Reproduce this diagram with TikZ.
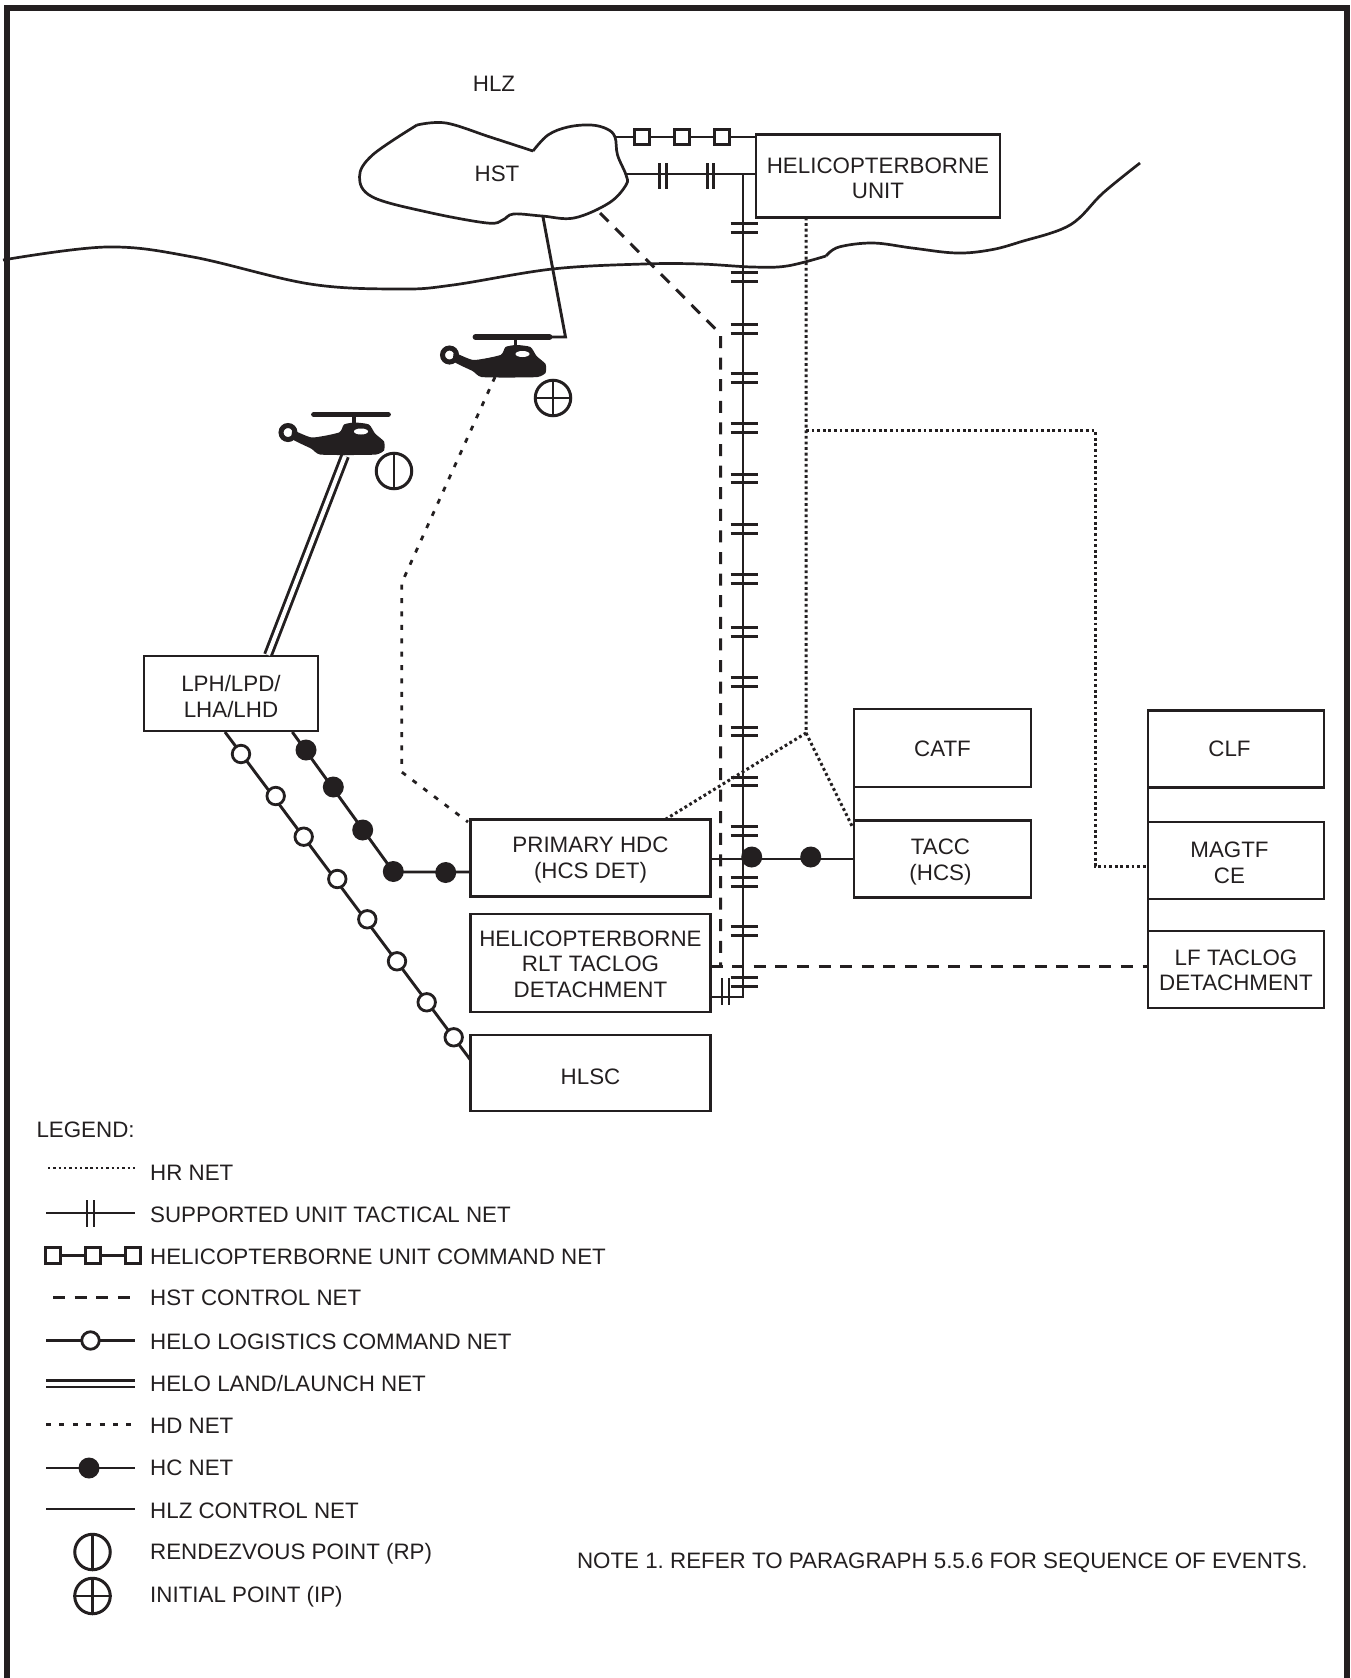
\documentclass[tikz,border=0pt]{standalone}
\usepackage{fontspec}
\setmainfont{Liberation Sans}
\usetikzlibrary{positioning}
\definecolor{inkDark}{HTML}{231F20}
% drops a box text by #1, the box itself stays where it is
\newcommand{\dropby}[1]{\rule{0pt}{\dimexpr16pt+2\dimexpr#1\relax\relax}}
\tikzset{
  every picture/.append style = {line width=3pt, color=inkDark, line join=miter},
  frameline/.style  = {inkDark, line width=5.6pt},
  shoreline/.style  = {inkDark, line width=2.7pt, line join=round},
  netbox/.style     = {draw=inkDark, line width=2.8pt, inner sep=0pt, outer sep=0pt, align=center,
                       font=\fontsize{22.35}{25.7}\selectfont, text=inkDark},
  lbl/.style        = {font=\fontsize{22.35}{25.7}\selectfont, text=inkDark, inner sep=0pt},
  legendlbl/.style  = {lbl, anchor=west},
  netline/.style    = {inkDark, line width=2.9pt},
  hrnet/.style      = {inkDark, line width=3pt, dash pattern=on 2.8pt off 2.8pt},
  hstnet/.style     = {inkDark, line width=3pt, dash pattern=on 12pt off 9.6pt},
  hdnet/.style      = {inkDark, line width=2.8pt, dash pattern=on 5pt off 8.4pt},
  landnet/.style    = {double=white, draw=inkDark, line width=2.9pt, double distance=4pt},
  hcdot/.style      = {circle, fill=inkDark, inner sep=0pt, minimum size=21pt},
  hldot/.style      = {circle, draw=inkDark, fill=white, line width=2.8pt, inner sep=0pt, minimum size=17.5pt},
  cmdsq/.style      = {rectangle, draw=inkDark, fill=white, line width=3pt, inner sep=0pt,
                       minimum width=14.5pt, minimum height=15.5pt},
  pointmark/.style  = {circle, draw=inkDark, line width=3pt, inner sep=0pt, minimum size=35.5pt},
  helo/.pic = {
    % rotor and mast
    \draw[inkDark, line width=5.8pt, line cap=round] (-37,0) -- (37,0);
    \draw[inkDark, line width=3.4pt] (3,0) -- (3,11);
    % tail ring and fuselage
    \draw[inkDark, line width=5pt] (-63,18) circle (7);
    \fill[inkDark] plot[smooth cycle, tension=0.35] coordinates {(-58,16) (-39,23) (-12,18) (-7,10)
      (4,8) (18,10) (24,19) (33,27) (33,36) (25,40) (0,40.5) (-31,40) (-40,34) (-58,25)};
    \fill[white] (10,17) ellipse (7 and 3);
  },
}

\begin{document}
\begin{tikzpicture}[x=1pt, y=-1pt]
  \useasboundingbox (0,0) rectangle (1351,1678);
  \frenchspacing
  % outer frame, open at the bottom
  \draw[frameline] (7,1678) -- (7,8) -- (1347,8) -- (1347,1678);

  % boxes
  \node[netbox, minimum width=244pt, minimum height=83pt] (hbunit) at (878,176) {\dropby{2pt}HELICOPTERBORNE\\UNIT};
  \node[netbox, minimum width=174pt, minimum height=75pt] (lph) at (231,693.5) {\dropby{3pt}LPH/LPD/\\LHA/LHD};
  \node[netbox, minimum width=240pt, minimum height=77pt] (hdc) at (590.5,858) {\dropby{2pt}PRIMARY HDC\\(HCS DET)};
  \node[netbox, minimum width=240pt, minimum height=98pt] (rlt) at (590.5,963) {\dropby{1pt}HELICOPTERBORNE\\RLT TACLOG\\DETACHMENT};
  \node[netbox, minimum width=240pt, minimum height=76pt] (hlsc) at (590.5,1073) {\dropby{4pt}HLSC};
  \node[netbox, minimum width=177pt, minimum height=78pt] (catf) at (942.5,748) {\dropby{1pt}CATF};
  \node[netbox, minimum width=177pt, minimum height=77pt] (tacc) at (942.5,859) {\dropby{3pt}TACC\hspace*{4pt}\\(HCS)\hspace*{4pt}};
  \node[netbox, minimum width=176pt, minimum height=77pt] (clf) at (1236,749) {CLF\hspace*{13pt}};
  \node[netbox, minimum width=176pt, minimum height=77pt] (magtf) at (1236,860.5) {\dropby{2pt}MAGTF\hspace*{13pt}\\CE\hspace*{13pt}};
  \node[netbox, minimum width=176pt, minimum height=77pt] (lftac) at (1236,969.5) {\dropby{0.5pt}LF TACLOG\\DETACHMENT};
  \node[lbl] (hlz) at (494,83.5) {HLZ};
  \node[lbl] (hst) at (497,173.5) {HST};

  % zone outline
  \draw[shoreline] plot[smooth, tension=0.6] coordinates {(417,125) (446,123) (490,137) (533,151)};
  \draw[shoreline] plot[smooth, tension=0.6] coordinates {(533,151) (548,135) (568,127) (591,125) (607,129) (615,137)
    (617.5,155) (626,175) (626,185) (609,203) (574,218) (542,216) (513.5,214) (502.6,220) (487,223)
    (427,212) (372.5,197) (359.5,177) (372.5,155) (417,125)};
  % shore
  \draw[shoreline] plot[smooth, tension=0.6] coordinates {(3,260) (107,247) (193,257) (310,284) (401,289) (453,285)
    (552.5,269) (643.5,264) (700,264) (752,267) (787,266) (826,256)};
  \draw[shoreline] plot[smooth, tension=0.6] coordinates {(826,256) (839,247) (873,243) (912,248) (956,253) (990,250)
    (1020,242) (1070,225) (1103,193) (1140,163)};

  % helicopters and points
  \pic (heloa) at (512.5,337) {helo};
  \pic (helob) at (351,414.5) {helo};
  \node[pointmark] (ip) at (553,398) {};
  \draw[netline] (ip.north) -- (ip.south) (ip.west) -- (ip.east);
  \node[pointmark] (rp) at (394,471) {};
  \draw[netline] (rp.north) -- (rp.south);

  % HLZ control net
  \coordinate (hlzbend) at (565.5,337);
  \draw[netline] (543,217) -- (hlzbend) -- (549,337);
  % helo land/launch net
  \coordinate (landtop) at (345,456);
  \draw[landnet] (landtop) -- (268,655);
  % HD net
  \coordinate (hdtop) at (495,377);
  \coordinate (hdmid) at (401.7,583);
  \coordinate (hdlow) at (401.7,772);
  \coordinate (hdend) at (468,822);
  \draw[hdnet] (hdtop) -- (hdmid) -- (hdlow) -- (hdend);
  % HST control net
  \coordinate (hstbend) at (720.5,334);
  \coordinate (hstlow) at (720.5,966);
  \draw[hstnet] (600,213) -- (hstbend) -- (hstlow);
  \draw[hstnet] (rlt.east |- hstlow) -- (lftac.west |- hstlow);
  % HR net
  \coordinate (hrtop) at (806,217.5);
  \coordinate (hrjoin) at (806,733);
  \coordinate (hrside) at (1095,430);
  \draw[hrnet] (hrtop) -- (hrjoin) -- (666,819);
  \draw[hrnet] (hrjoin) -- (853,828);
  \draw[hrnet] (806,430) -- (hrside) -- (1095,866) -- (magtf.west |- 0,866);

  % helicopterborne unit command net
  \draw[netline] (615,137) -- (hbunit.west |- 0,137);
  \foreach \x/\n in {642/a, 682/b, 722/c} {
    \node[cmdsq] (sq\n) at (\x,137) {};
  }
  % supported unit tactical net
  \coordinate (tacbot) at (743,997);
  \draw[netline] (626,174) -- (hbunit.west |- 0,174);
  \draw[netline] (743,174) -- (tacbot) -- (rlt.east |- tacbot);
  \foreach \x in {663, 710.5} {
    \draw[netline] (\x-3.4,163) -- (\x-3.4,189) (\x+3.4,163) -- (\x+3.4,189);
  }
  \draw[netline] (722,978) -- (722,1005) (729,978) -- (729,1005);
  \foreach \y in {228, 277, 329, 378, 428, 478.5, 529, 579, 632, 682, 731.5, 781.5, 831, 882, 931, 982} {
    \draw[netline] (730.5,\y-4.2) -- (758,\y-4.2) (730.5,\y+4.2) -- (758,\y+4.2);
  }
  % HC net
  \coordinate (hcbend) at (393.5,872);
  \draw[netline] (292.3,732) -- (hcbend) -- (hdc.west |- hcbend);
  \draw[netline] (hdc.east |- 0,859) -- (tacc.west |- 0,859);
  \foreach \x/\y/\n in {306/750/a, 333.3/787/b, 362.7/830/c, 393.3/871.5/d, 445.7/872.5/e, 751.7/857/f, 810.7/857/g} {
    \node[hcdot] (hc\n) at (\x,\y) {};
  }
  % helo logistics command net
  \coordinate (hlstart) at (225,732);
  \draw[netline] (hlstart) -- (hlsc.west |- 0,1060);
  \foreach \x/\y/\n in {241/754/a, 275.7/796/b, 303.7/836.7/c, 337.3/879/d, 367.3/919.3/e, 397/961.3/f, 426.7/1002.3/g, 453.7/1037.3/h} {
    \node[hldot] (hl\n) at (\x,\y) {};
  }
  % links along the box edges
  \draw[netline] (catf.south west) -- (tacc.north west);
  \draw[netline] (clf.south west) -- (magtf.north west);
  \draw[netline] (magtf.south west) -- (lftac.north west);

  % legend
  \node[lbl, anchor=west] (legend) at (35,1130) {LEGEND:};
  \node[legendlbl] (lghr) at (148.7,1172.5) {HR NET};
  \node[legendlbl] (lgsup) at (148.7,1214.5) {SUPPORTED UNIT TACTICAL NET};
  \node[legendlbl] (lgcmd) at (148.7,1256.5) {HELICOPTERBORNE UNIT COMMAND NET};
  \node[legendlbl] (lghst) at (148.7,1298) {HST CONTROL NET};
  \node[legendlbl] (lglog) at (148.7,1341.5) {HELO LOGISTICS COMMAND NET};
  \node[legendlbl] (lgland) at (148.7,1383) {HELO LAND/LAUNCH NET};
  \node[legendlbl] (lghd) at (148.7,1425.5) {HD NET};
  \node[legendlbl] (lghc) at (148.7,1468) {HC NET};
  \node[legendlbl] (lghlz) at (148.7,1510.5) {HLZ CONTROL NET};
  \node[legendlbl] (lgrp) at (148.7,1554) {RENDEZVOUS POINT (RP)};
  \node[legendlbl] (lgip) at (148.7,1596.5) {INITIAL POINT (IP)};
  \node[legendlbl] (note) at (575.5,1563) {NOTE 1. REFER TO PARAGRAPH 5.5.6 FOR SEQUENCE OF EVENTS.};

  % legend samples
  \draw[inkDark, line width=2.6pt, dash pattern=on 2.4pt off 2.9pt] (48,1168) -- (135,1168);
  \draw[netline] (46,1213) -- (135,1213);
  \draw[netline] (87,1200) -- (87,1227) (94,1200) -- (94,1227);
  \draw[netline] (53,1255.5) -- (133,1255.5);
  \foreach \x/\n in {53/a, 93/b, 133/c} {
    \node[cmdsq] (lgsq\n) at (\x,1255.5) {};
  }
  \draw[hstnet] (53,1297.5) -- (135,1297.5);
  \draw[netline] (46,1340.5) -- (135,1340.5);
  \node[hldot] (lghldot) at (90.5,1340.5) {};
  \draw[landnet] (46,1383.5) -- (135,1383.5);
  \draw[hdnet] (46,1424.5) -- (135,1424.5);
  \draw[netline] (46,1468) -- (135,1468);
  \node[hcdot] (lghcdot) at (89,1468) {};
  \draw[netline] (46,1509) -- (135,1509);
  \node[pointmark] (lgrpmark) at (92.5,1552) {};
  \draw[netline] (lgrpmark.north) -- (lgrpmark.south);
  \node[pointmark] (lgipmark) at (92.5,1596) {};
  \draw[netline] (lgipmark.north) -- (lgipmark.south) (lgipmark.west) -- (lgipmark.east);
\end{tikzpicture}
\end{document}
